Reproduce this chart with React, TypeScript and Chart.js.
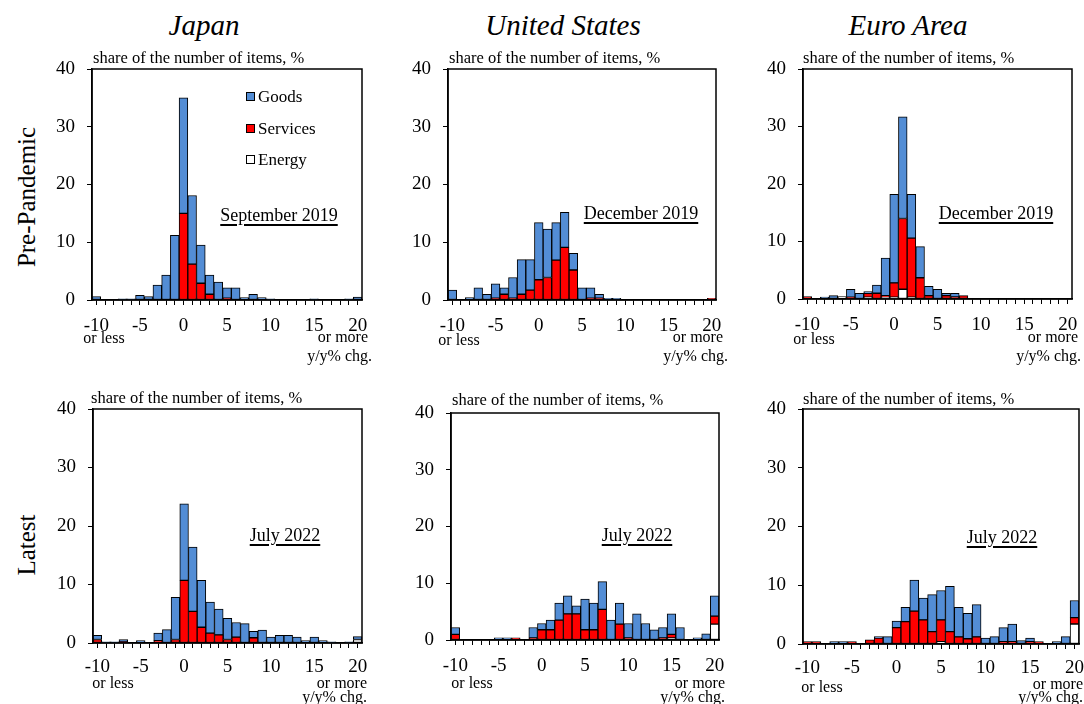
import React, { useEffect, useRef } from 'react';
import { Chart, registerables } from 'chart.js';

Chart.register(...registerables);

const FONT = '"Liberation Serif", "Times New Roman", Times, serif';

const CATEGORIES = [
  '-10', '-9', '-8', '-7', '-6', '-5', '-4', '-3', '-2', '-1',
  '0', '1', '2', '3', '4', '5', '6', '7', '8', '9',
  '10', '11', '12', '13', '14', '15', '16', '17', '18', '19', '20',
];

// Japan, September 2019
const JP_PRE_GOODS = [0.6, 0, 0, 0.2, 0.2, 0.8, 0.6, 2.6, 4.3, 11.2, 20.0, 11.9, 6.6, 3.3, 3.1, 1.8, 2.1, 0.4, 1.0, 0.4, 0.2, 0, 0, 0, 0, 0.2, 0, 0, 0, 0.2, 0.5];
const JP_PRE_SERVICES = [0, 0, 0, 0, 0, 0, 0, 0, 0, 0, 15.0, 6.2, 2.9, 1.0, 0, 0.3, 0, 0, 0, 0, 0, 0, 0, 0, 0, 0, 0, 0, 0, 0, 0];
const JP_PRE_ENERGY = [0, 0, 0, 0, 0, 0, 0, 0, 0, 0, 0, 0, 0, 0, 0, 0, 0, 0, 0, 0, 0, 0, 0, 0, 0, 0, 0, 0, 0, 0, 0];

// United States, December 2019
const US_PRE_GOODS = [1.7, 0, 0.4, 2.1, 1.0, 2.5, 1.1, 3.6, 6.0, 5.3, 9.9, 8.4, 6.5, 6.1, 2.9, 2.1, 1.8, 0.7, 0.3, 0.3, 0, 0, 0, 0, 0, 0, 0, 0, 0, 0, 0];
const US_PRE_SERVICES = [0, 0, 0, 0, 0, 0.3, 1.0, 0.3, 1.0, 1.7, 3.5, 3.9, 6.9, 9.1, 5.2, 0, 0.3, 0.3, 0, 0, 0, 0, 0, 0, 0, 0, 0, 0, 0, 0, 0.3];
const US_PRE_ENERGY = [0, 0, 0, 0, 0, 0, 0, 0, 0, 0, 0, 0, 0, 0, 0, 0, 0, 0, 0, 0, 0, 0, 0, 0, 0, 0, 0, 0, 0, 0, 0];

// Euro Area, December 2019
const EA_PRE_GOODS = [0, 0, 0.35, 0.6, 0, 1.4, 1.0, 0.3, 1.4, 6.5, 15.4, 17.7, 7.6, 5.4, 1.6, 1.7, 0.4, 0.65, 0, 0, 0, 0, 0, 0, 0, 0, 0, 0, 0, 0, 0];
const EA_PRE_SERVICES = [0.4, 0, 0, 0, 0, 0.3, 0, 0.7, 1.0, 0.3, 2.5, 12.3, 10.3, 3.7, 0.6, 0, 0.6, 0.35, 0.6, 0, 0, 0, 0, 0, 0, 0, 0, 0, 0, 0, 0];
const EA_PRE_ENERGY = [0, 0, 0, 0, 0.4, 0, 0, 0.3, 0, 0.3, 0.3, 1.7, 0.3, 0, 0, 0, 0, 0, 0, 0, 0, 0, 0, 0, 0, 0, 0, 0, 0, 0, 0];

// Japan, July 2022
const JP_NOW_GOODS = [0.7, 0.2, 0.2, 0.4, 0, 0.4, 0, 1.3, 2.3, 7.2, 13.1, 11.0, 8.0, 5.3, 4.4, 3.6, 2.5, 3.3, 1.1, 2.2, 1.0, 1.3, 1.3, 1.0, 0.4, 1.0, 0.4, 0.2, 0, 0.2, 0.5];
const JP_NOW_SERVICES = [0.6, 0, 0, 0.2, 0, 0, 0, 0.4, 0, 0.6, 10.7, 5.4, 2.7, 1.7, 1.4, 0.6, 1.0, 0, 0.9, 0, 0, 0, 0, 0, 0, 0, 0, 0, 0, 0, 0];
const JP_NOW_ENERGY = [0, 0, 0, 0, 0, 0, 0, 0, 0, 0, 0, 0, 0, 0, 0, 0, 0, 0, 0, 0, 0, 0, 0, 0, 0, 0, 0, 0, 0, 0, 0.6];

// United States, July 2022
const US_NOW_GOODS = [1.2, 0, 0, 0, 0, 0.4, 0.4, 0, 0, 1.85, 1.1, 1.7, 3.0, 3.2, 1.4, 5.4, 4.7, 4.9, 3.5, 3.7, 2.55, 4.6, 2.9, 1.8, 1.85, 3.6, 2.2, 0, 0.4, 1.1, 3.6];
const US_NOW_SERVICES = [1.0, 0, 0, 0, 0, 0, 0, 0.4, 0, 0.35, 1.8, 1.8, 3.5, 4.6, 4.6, 1.8, 1.8, 5.4, 0, 2.8, 0.35, 0, 0, 0, 0.35, 0.65, 0, 0, 0, 0, 1.4];
const US_NOW_ENERGY = [0, 0, 0, 0, 0, 0, 0, 0, 0, 0, 0, 0, 0, 0, 0, 0, 0, 0, 0, 0, 0, 0, 0, 0, 0, 0.35, 0, 0, 0, 0, 2.8];

// Euro Area, July 2022
const EA_NOW_GOODS = [0, 0, 0, 0.4, 0.4, 0, 0, 0, 0.25, 1.25, 1.1, 2.45, 5.3, 3.7, 6.3, 5.0, 7.7, 5.05, 4.3, 5.5, 1.0, 1.25, 2.4, 3.0, 0.6, 0.6, 0, 0, 0.4, 1.25, 2.9];
const EA_NOW_SERVICES = [0.4, 0.4, 0, 0, 0, 0.4, 0, 0.7, 1.0, 0, 2.8, 3.8, 5.6, 4.1, 2.1, 3.7, 2.1, 1.2, 0.9, 1.2, 0, 0, 0.4, 0.4, 0, 0.4, 0.4, 0, 0, 0, 1.1];
const EA_NOW_ENERGY = [0, 0, 0, 0, 0, 0, 0, 0, 0, 0, 0, 0, 0, 0, 0, 0.4, 0, 0, 0, 0, 0, 0, 0, 0, 0, 0, 0, 0, 0, 0, 3.4];

const COLORS = { goods: '#538DD5', services: '#FF0000', energy: '#FFFFFF' };

const PAD_T = 14;
const PAD_R = 14;
const Y_W = 45;
const X_H = 45;

const framePlugin = {
  id: 'frame',
  afterDraw(chart: any) {
    const { ctx, chartArea: a } = chart;
    ctx.save();
    ctx.strokeStyle = '#000';
    ctx.lineWidth = 1.5;
    ctx.strokeRect(a.left, a.top, a.right - a.left, a.bottom - a.top);
    ctx.restore();
  },
};

type PanelProps = {
  rect: [number, number, number, number];
  goods: number[];
  services: number[];
  energy: number[];
  xPad: number;
};

function Panel({ rect, goods, services, energy, xPad }: PanelProps) {
  const ref = useRef<HTMLCanvasElement>(null);
  const [L, T, R, B] = rect;
  const W = R - L + Y_W + PAD_R;
  const H = B - T + PAD_T + X_H;
  useEffect(() => {
    const nz = (v: number) => (v ? v : null);
    const ds = (label: string, data: number[], color: string) => ({
      label,
      data: data.map(nz),
      backgroundColor: color,
      borderColor: '#000',
      borderWidth: 1,
      borderSkipped: false as const,
      categoryPercentage: 1,
      barPercentage: 1,
    });
    const chart = new Chart(ref.current!, {
      type: 'bar',
      data: {
        labels: CATEGORIES,
        datasets: [
          ds('Energy', energy, COLORS.energy),
          ds('Services', services, COLORS.services),
          ds('Goods', goods, COLORS.goods),
        ] as any,
      },
      options: {
        animation: false,
        responsive: false,
        maintainAspectRatio: false,
        layout: { padding: { top: PAD_T, right: PAD_R, left: 0, bottom: 0 } },
        plugins: { legend: { display: false }, tooltip: { enabled: false } },
        scales: {
          x: {
            stacked: true,
            offset: true,
            grid: {
              offset: false,
              drawOnChartArea: false,
              drawTicks: true,
              tickLength: 5,
              color: '#000',
              lineWidth: 1,
            },
            border: { color: '#000', width: 1.5 },
            ticks: {
              autoSkip: false,
              maxRotation: 0,
              minRotation: 0,
              padding: xPad,
              color: '#000',
              font: { family: FONT, size: 19 },
              callback: (_v: any, i: number) =>
                Number(CATEGORIES[i]) % 5 === 0 ? CATEGORIES[i] : '',
            },
            afterFit: (s: any) => {
              s.height = X_H;
              s.paddingLeft = 0;
              s.paddingRight = 0;
            },
          },
          y: {
            stacked: true,
            min: 0,
            max: 40,
            grid: {
              drawOnChartArea: false,
              drawTicks: true,
              tickLength: 5,
              color: '#000',
              lineWidth: 1,
            },
            border: { color: '#000', width: 1.5 },
            ticks: {
              stepSize: 10,
              padding: 12,
              color: '#000',
              font: { family: FONT, size: 19 },
            },
            afterFit: (s: any) => {
              s.width = Y_W;
              s.paddingTop = 0;
              s.paddingBottom = 0;
            },
          },
        },
      } as any,
      plugins: [framePlugin],
    });
    return () => chart.destroy();
  }, []);
  return (
    <canvas
      ref={ref}
      width={W}
      height={H}
      style={{ position: 'absolute', left: L - Y_W, top: T - PAD_T, width: W, height: H }}
    />
  );
}

type LabelProps = {
  x: number;
  y: number;
  text: string;
  size: number;
  anchor?: 'center' | 'left' | 'right';
  italic?: boolean;
  underline?: boolean;
  rotate?: boolean;
};

function Label({ x, y, text, size, anchor = 'center', italic, underline, rotate }: LabelProps) {
  const tx = anchor === 'center' ? '-50%' : anchor === 'right' ? '-100%' : '0';
  return (
    <div
      style={{
        position: 'absolute',
        left: x,
        top: y,
        transform: `translate(${tx}, -50%)${rotate ? ' rotate(-90deg)' : ''}`,
        fontFamily: FONT,
        fontSize: size,
        lineHeight: 1,
        whiteSpace: 'pre',
        fontStyle: italic ? 'italic' : 'normal',
        textDecoration: underline ? 'underline' : 'none',
        textDecorationThickness: underline ? '2px' : undefined,
        textUnderlineOffset: underline ? '3px' : undefined,
        color: '#000',
      }}
    >
      {text}
    </div>
  );
}

function LegendItem({ x, y, color, text }: { x: number; y: number; color: string; text: string }) {
  return (
    <>
      <div
        style={{
          position: 'absolute',
          left: x,
          top: y - 4.5,
          width: 7,
          height: 7,
          background: color,
          border: '1px solid #000',
        }}
      />
      <Label x={x + 12} y={y} text={text} size={17} anchor="left" />
    </>
  );
}

const AXIS_NOTE = 'share of the number of items, %';

export default function App() {
  return (
    <div
      style={{
        position: 'absolute',
        left: 0,
        top: 0,
        width: 1084,
        height: 704,
        overflow: 'hidden',
        background: '#fff',
      }}
    >
      <Panel rect={[92, 69, 362, 300]} goods={JP_PRE_GOODS} services={JP_PRE_SERVICES} energy={JP_PRE_ENERGY} xPad={10} />
      <Panel rect={[448, 69, 716, 300]} goods={US_PRE_GOODS} services={US_PRE_SERVICES} energy={US_PRE_ENERGY} xPad={10} />
      <Panel rect={[803, 69, 1072, 299]} goods={EA_PRE_GOODS} services={EA_PRE_SERVICES} energy={EA_PRE_ENERGY} xPad={10} />
      <Panel rect={[93, 409, 362, 643]} goods={JP_NOW_GOODS} services={JP_NOW_SERVICES} energy={JP_NOW_ENERGY} xPad={8} />
      <Panel rect={[451, 413, 719, 640]} goods={US_NOW_GOODS} services={US_NOW_SERVICES} energy={US_NOW_ENERGY} xPad={10} />
      <Panel rect={[803, 409, 1079, 644]} goods={EA_NOW_GOODS} services={EA_NOW_SERVICES} energy={EA_NOW_ENERGY} xPad={8} />

      <Label x={204} y={25} text="Japan" size={29} italic />
      <Label x={563} y={25} text="United States" size={29} italic />
      <Label x={908} y={25} text="Euro Area" size={29} italic />

      <Label x={26} y={197} text="Pre-Pandemic" size={25} rotate />
      <Label x={26} y={545} text="Latest" size={25} rotate />

      <Label x={93} y={58} text={AXIS_NOTE} size={16.5} anchor="left" />
      <Label x={449} y={58} text={AXIS_NOTE} size={16.5} anchor="left" />
      <Label x={803} y={58} text={AXIS_NOTE} size={16.5} anchor="left" />
      <Label x={91} y={398} text={AXIS_NOTE} size={16.5} anchor="left" />
      <Label x={452} y={400} text={AXIS_NOTE} size={16.5} anchor="left" />
      <Label x={803} y={399} text={AXIS_NOTE} size={16.5} anchor="left" />

      <LegendItem x={246} y={96} color={COLORS.goods} text="Goods" />
      <LegendItem x={246} y={128} color={COLORS.services} text="Services" />
      <LegendItem x={246} y={159} color={COLORS.energy} text="Energy" />

      <Label x={279} y={215} text="September 2019" size={18} underline />
      <Label x={641} y={213} text="December 2019" size={18} underline />
      <Label x={996} y={213} text="December 2019" size={18} underline />
      <Label x={285} y={535} text="July 2022" size={18} underline />
      <Label x={637} y={535} text="July 2022" size={18} underline />
      <Label x={1002} y={537} text="July 2022" size={18} underline />

      <Label x={104} y={338} text="or less" size={16} />
      <Label x={459} y={340} text="or less" size={16} />
      <Label x={814} y={339} text="or less" size={16} />
      <Label x={113} y={683} text="or less" size={16} />
      <Label x={472} y={683} text="or less" size={16} />
      <Label x={822} y={687} text="or less" size={16} />

      <Label x={368} y={337} text="or more" size={16} anchor="right" />
      <Label x={372} y={356} text="y/y% chg." size={16} anchor="right" />
      <Label x={723} y={337} text="or more" size={16} anchor="right" />
      <Label x={728} y={356} text="y/y% chg." size={16} anchor="right" />
      <Label x={1078} y={337} text="or more" size={16} anchor="right" />
      <Label x={1081} y={356} text="y/y% chg." size={16} anchor="right" />
      <Label x={367} y={683} text="or more" size={16} anchor="right" />
      <Label x={367} y={697} text="y/y% chg." size={16} anchor="right" />
      <Label x={725} y={683} text="or more" size={16} anchor="right" />
      <Label x={725} y={697} text="y/y% chg." size={16} anchor="right" />
      <Label x={1083} y={684} text="or more" size={16} anchor="right" />
      <Label x={1083} y={697} text="y/y% chg." size={16} anchor="right" />
    </div>
  );
}
